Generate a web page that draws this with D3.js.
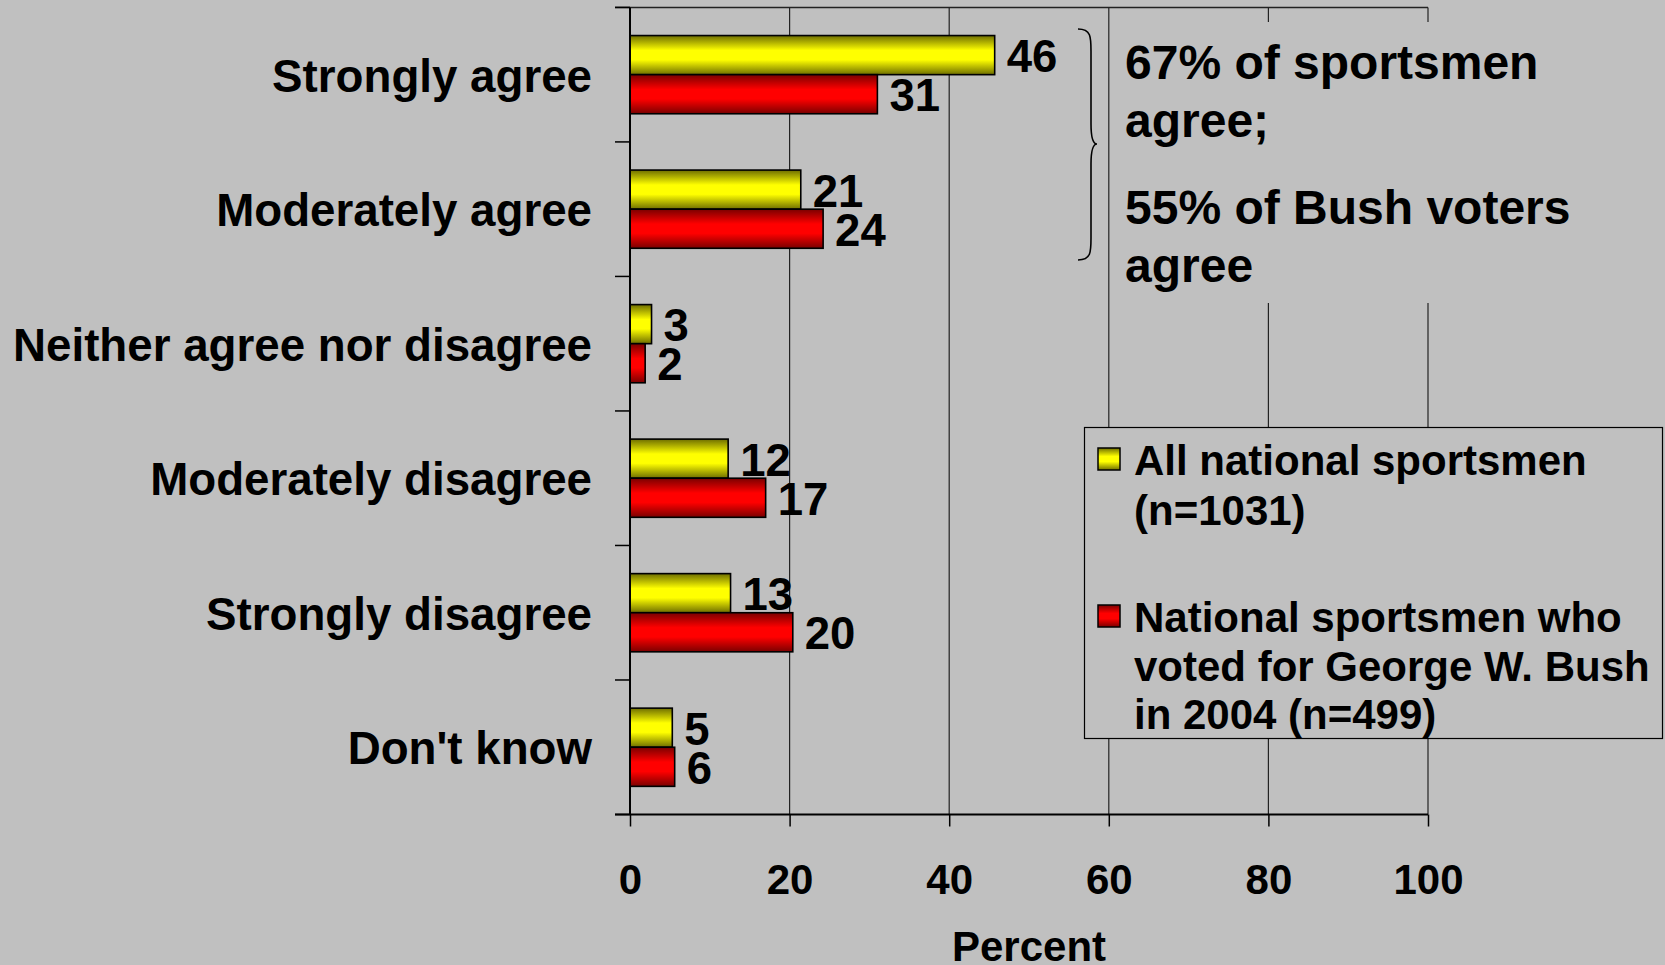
<!DOCTYPE html>
<html>
<head>
<meta charset="utf-8">
<script src="https://cdn.jsdelivr.net/npm/d3@7/dist/d3.min.js"></script>
<style>
html,body{margin:0;padding:0;background:#c0c0c0;}
svg{display:block;}
text{font-family:"Liberation Sans",Arial,Helvetica,sans-serif;font-weight:bold;fill:#000;}
</style>
</head>
<body>
<script>
const categories = ["Strongly agree","Moderately agree","Neither agree nor disagree","Moderately disagree","Strongly disagree","Don't know"];
const seriesNames = ["All national sportsmen (n=1031)","National sportsmen who voted for George W. Bush in 2004 (n=499)"];
// bar lengths (labels show them rounded)
const allSportsmen = [45.7,21.4,2.7,12.3,12.6,5.3];
const bushVoters = [31.0,24.2,1.9,17.0,20.4,5.6];
const xTicks = [0,20,40,60,80,100];
const axisTitle = "Percent";
const legendLines = [["All national sportsmen","(n=1031)"],["National sportsmen who","voted for George W. Bush","in 2004 (n=499)"]];
const noteLines = [["67% of sportsmen","agree;"],["55% of Bush voters","agree"]];

(function(){
const W = 1665, H = 965;
const pL = 630, pR = 1428, pT = 7.4, pB = 814.5;

const svg = d3.select("body").append("svg").attr("width", W).attr("height", H);
const defs = svg.append("defs");
function grad(id, dark, bright){
  const g = defs.append("linearGradient").attr("id", id).attr("x1",0).attr("y1",0).attr("x2",0).attr("y2",1);
  [[0,dark],[0.38,bright],[0.62,bright],[1,dark]].forEach(s=>g.append("stop").attr("offset",s[0]).attr("stop-color",s[1]));
}
grad("gy","#6e6e00","#ffff00");
grad("gr","#7a0000","#ff0000");
const fills = ["url(#gy)","url(#gr)"];

svg.append("rect").attr("width",W).attr("height",H).attr("fill","#c0c0c0");

const x = d3.scaleLinear().domain([0,100]).range([pL,pR]);
const y = d3.scaleBand().domain(categories).range([pT,pB]).padding(0);
const ys = d3.scaleBand().domain([0,1]).range([0,y.bandwidth()]).paddingInner(0).paddingOuter(0.72);
const fmt = d3.format(".0f");

// gridlines
svg.append("g").selectAll("line").data(xTicks.slice(1)).join("line")
  .attr("x1",d=>x(d)).attr("x2",d=>x(d)).attr("y1",pT).attr("y2",pB)
  .attr("stroke","#222").attr("stroke-width",1.2);

// top border
svg.append("line").attr("x1",615).attr("x2",pR).attr("y1",pT).attr("y2",pT).attr("stroke","#222").attr("stroke-width",1.5);

// annotation background (hides gridlines)
svg.append("rect").attr("x",x(60)+3).attr("y",22).attr("width",W-x(60)-3).attr("height",281).attr("fill","#c0c0c0");

// bars
const data = categories.map((c,i)=>({c, v:[allSportsmen[i], bushVoters[i]]}));
const gcat = svg.append("g").selectAll("g").data(data).join("g")
  .attr("transform",d=>`translate(0,${y(d.c)})`);
gcat.selectAll("rect").data(d=>d.v.map((v,k)=>({v,k}))).join("rect")
  .attr("x",x(0)).attr("y",d=>ys(d.k)).attr("width",d=>x(d.v)-x(0)).attr("height",ys.bandwidth())
  .attr("fill",d=>fills[d.k]).attr("stroke","#000").attr("stroke-width",1.6);
gcat.selectAll("text.val").data(d=>d.v.map((v,k)=>({v,k}))).join("text").attr("class","val")
  .attr("x",d=>x(d.v)+12).attr("y",d=>ys(d.k)+ys.bandwidth()/2+17)
  .attr("font-size",45.5).text(d=>fmt(d.v));

// category labels
svg.append("g").selectAll("text").data(categories).join("text")
  .attr("x",592).attr("y",d=>y(d)+y.bandwidth()/2+17)
  .attr("text-anchor","end").attr("font-size",45.7).text(d=>d);

// left axis + ticks at band boundaries
svg.append("line").attr("x1",pL).attr("x2",pL).attr("y1",pT).attr("y2",pB).attr("stroke","#000").attr("stroke-width",2);
const bounds = categories.map(c=>y(c)).concat([pB]);
svg.append("g").selectAll("line").data(bounds).join("line")
  .attr("x1",615).attr("x2",pL).attr("y1",d=>d).attr("y2",d=>d).attr("stroke","#000").attr("stroke-width",1.5);

// bottom axis
const xAxis = d3.axisBottom(x).tickValues(xTicks).tickSize(12).tickPadding(34).tickFormat(d3.format("d"));
const ga = svg.append("g").attr("transform",`translate(0,${pB})`).call(xAxis);
ga.select(".domain").attr("stroke","#000").attr("stroke-width",2).attr("d",`M615,0H${pR}`);
ga.selectAll(".tick line").attr("stroke","#000").attr("stroke-width",1.5);
ga.selectAll(".tick text").attr("font-size",42).attr("font-family","'Liberation Sans',Arial,sans-serif").attr("font-weight","bold").attr("fill","#000").attr("dy",0).attr("y",79);
svg.append("text").attr("x",(x(0)+x(100))/2).attr("y",961).attr("text-anchor","middle").attr("font-size",42).text(axisTitle);

// curly brace
const bx0 = 1078, bxm = 1091, bxt = 1097, by0 = 29, bym = 144, by1 = 260;
const brace = `M${bx0},${by0} C${bxm},${by0} ${bxm},${by0+8} ${bxm},${by0+22} L${bxm},${bym-20} C${bxm},${bym-6} ${bxm+2},${bym} ${bxt},${bym} C${bxm+2},${bym} ${bxm},${bym+6} ${bxm},${bym+20} L${bxm},${by1-22} C${bxm},${by1-8} ${bxm},${by1} ${bx0},${by1}`;
svg.append("path").attr("d",brace).attr("fill","none").attr("stroke","#000").attr("stroke-width",1.6);

// annotation
const noteBase = [[79,137],[224,282]];
noteLines.forEach((para,p)=>para.forEach((ln,i)=>{
  svg.append("text").attr("x",1125).attr("y",noteBase[p][i]).attr("font-size",48).text(ln);
}));

// legend
svg.append("rect").attr("x",1084.5).attr("y",427.5).attr("width",578).attr("height",311)
  .attr("fill","#c0c0c0").attr("stroke","#000").attr("stroke-width",1.2);
const legY = [[460,510],[617,666,714]];
legendLines.forEach((lines,k)=>{
  svg.append("rect").attr("x",1098).attr("y",legY[k][0]-12).attr("width",22).attr("height",22)
    .attr("fill",fills[k]).attr("stroke","#000").attr("stroke-width",1.5);
  lines.forEach((ln,i)=>{
    svg.append("text").attr("x",1134).attr("y",legY[k][i]+15).attr("font-size",42).text(ln);
  });
});
})();
</script>
</body>
</html>
